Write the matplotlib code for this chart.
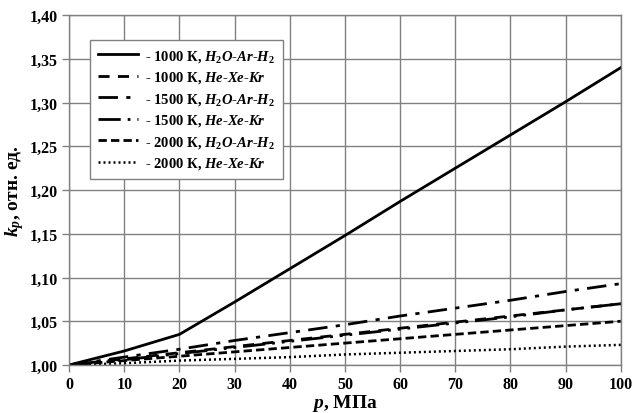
import matplotlib
matplotlib.use("Agg")
import matplotlib.pyplot as plt
from matplotlib.ticker import FuncFormatter

plt.rcParams['font.family'] = 'Liberation Serif'
plt.rcParams['font.weight'] = 'bold'
plt.rcParams['mathtext.fontset'] = 'custom'
plt.rcParams['mathtext.rm'] = 'Liberation Serif:bold'
plt.rcParams['mathtext.it'] = 'Liberation Serif:italic:bold'

p = [0, 10, 20, 30, 40, 50, 60, 70, 80, 90, 100]

k_1000_h2o = [1.000, 1.016, 1.035, 1.072, 1.110, 1.148, 1.187, 1.225, 1.263, 1.301, 1.340]
k_1000_he = [1.000, 1.007, 1.014, 1.021, 1.028, 1.035, 1.042, 1.049, 1.056, 1.063, 1.070]
k_1500_h2o = [1.000, 1.009, 1.018, 1.028, 1.037, 1.046, 1.056, 1.065, 1.074, 1.084, 1.093]
k_1500_he = [1.000, 1.006, 1.013, 1.020, 1.027, 1.034, 1.041, 1.048, 1.055, 1.063, 1.070]
k_2000_h2o = [1.000, 1.005, 1.010, 1.015, 1.020, 1.025, 1.030, 1.035, 1.040, 1.045, 1.050]
k_2000_he = [1.000, 1.002, 1.005, 1.007, 1.009, 1.012, 1.014, 1.016, 1.018, 1.021, 1.023]

labels = [
    r"- 1000 К, $H_2O$-$Ar$-$H_2$",
    r"- 1000 К, $He$-$Xe$-$Kr$",
    r"- 1500 К, $H_2O$-$Ar$-$H_2$",
    r"- 1500 К, $He$-$Xe$-$Kr$",
    r"- 2000 К, $H_2O$-$Ar$-$H_2$",
    r"- 2000 К, $He$-$Xe$-$Kr$",
]

fig = plt.figure(figsize=(6.4, 4.14), dpi=100)
ax = fig.add_axes([0.108, 0.116, 0.862, 0.845])

ax.plot(p, k_1000_h2o, color='black', lw=2, ls='-', label=labels[0])
ax.plot(p, k_1000_he, color='black', lw=2, ls=(0, (4, 3)), label=labels[1])
ax.plot(p, k_1500_h2o, color='black', lw=2, ls=(0, (7, 3, 1.5, 3)), label=labels[2])
ax.plot(p, k_1500_he, color='black', lw=2, ls=(0, (8, 2.5, 1, 2.5, 1, 2.5, 1, 2.5)), label=labels[3])
ax.plot(p, k_2000_h2o, color='black', lw=2, ls=(0, (3, 1.5)), label=labels[4])
ax.plot(p, k_2000_he, color='black', lw=1.8, ls=(0, (0.8, 1.2)), label=labels[5])

ax.set_xlim(0, 100)
ax.set_ylim(1.0, 1.4)
ax.set_xticks(range(0, 101, 10))
ax.set_yticks([1.0 + 0.05 * i for i in range(9)])
ax.yaxis.set_major_formatter(FuncFormatter(lambda v, pos: f"{v:.2f}".replace('.', ',')))
ax.tick_params(labelsize=11.5, color='#808080', length=5, width=1, pad=3)
ax.grid(True, color='#808080', lw=1)
for s in ax.spines.values():
    s.set_color('#808080')
    s.set_linewidth(1)

ax.set_xlabel(r"$p$, МПа", fontsize=14, fontweight='bold', labelpad=0)
ax.set_ylabel(r"$k_p$, отн. ед.", fontsize=14, fontweight='bold', labelpad=3)

leg = ax.legend(loc='upper left', bbox_to_anchor=(0.025, 0.95), fontsize=10.5,
                frameon=True, fancybox=False, framealpha=1, edgecolor='#808080',
                handlelength=2.7, handletextpad=0.5, labelspacing=0.38, borderpad=0.55)
leg.get_frame().set_linewidth(1)

fig.savefig("out.png", dpi=100)
